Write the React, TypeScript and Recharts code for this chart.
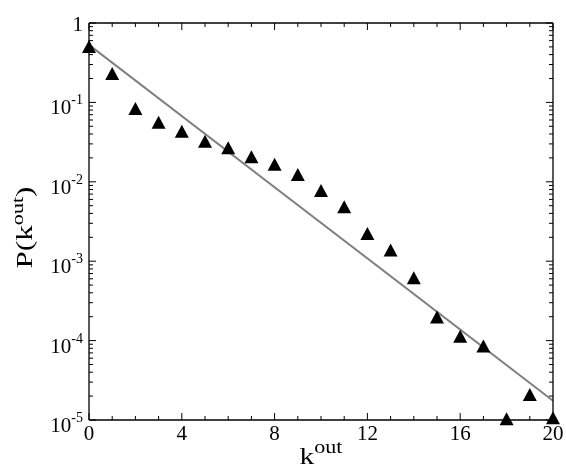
import React from "react";
import { ComposedChart, Scatter, Line, XAxis, YAxis } from "recharts";

// out-degree distribution (semi-log)
const kOut = [0, 1, 2, 3, 4, 5, 6, 7, 8, 9, 10, 11, 12, 13, 14, 15, 16, 17, 18, 19, 20];
const pK = [
  0.5, 0.228, 0.0826, 0.0555, 0.0428, 0.032, 0.0264, 0.0204, 0.0164, 0.0122, 0.00766,
  0.00478, 0.0022, 0.00136, 0.00061, 0.000195, 0.000112, 0.000084, 0.0000102, 0.0000207,
  0.0000105,
];

// exponential fit
const fitK = [0, 20];
const fitP = [0.53, 0.0000175];

// axis ticks
const xTicks = [0, 1, 2, 3, 4, 5, 6, 7, 8, 9, 10, 11, 12, 13, 14, 15, 16, 17, 18, 19, 20];
const xMajorTicks = [0, 4, 8, 12, 16, 20];
const yMajorExponents = [0, -1, -2, -3, -4, -5];
const yMinorFactors = [2, 3, 4, 5, 6, 7, 8, 9];

const rows = kOut.map((k, i) => ({ k, p: pK[i] }));
const fitRows = fitK.map((k, i) => ({ k, p: fitP[i] }));

const yTicks: number[] = [];
yMajorExponents.forEach((e) => {
  yTicks.push(Math.pow(10, e));
  if (e < 0) yMinorFactors.forEach((m) => yTicks.push(m * Math.pow(10, e)));
});
yTicks.sort((a, b) => a - b);

const FONT = "'Liberation Serif', 'Times New Roman', serif";
const MAJOR = 7;
const MINOR = 4;

const exponentOf = (v: number) => {
  const e = Math.log10(v);
  const r = Math.round(e);
  return Math.abs(e - r) < 1e-6 ? r : null;
};

function BottomTick({ x, y, payload }: any) {
  const major = xMajorTicks.includes(payload.value);
  return (
    <g>
      <line x1={x} y1={y} x2={x} y2={y - (major ? MAJOR : MINOR)} stroke="#000" strokeWidth={1} />
      {major && (
        <text x={x} y={y + 20} textAnchor="middle" fontSize={21} fontFamily={FONT} fill="#000">
          {payload.value}
        </text>
      )}
    </g>
  );
}

function TopTick({ x, y, payload }: any) {
  const major = xMajorTicks.includes(payload.value);
  return <line x1={x} y1={y} x2={x} y2={y + (major ? MAJOR : MINOR)} stroke="#000" strokeWidth={1} />;
}

function LeftTick({ x, y, payload }: any) {
  const e = exponentOf(payload.value);
  const major = e !== null && yMajorExponents.includes(e);
  return (
    <g>
      <line x1={x} y1={y} x2={x + (major ? MAJOR : MINOR)} y2={y} stroke="#000" strokeWidth={1} />
      {major && e === 0 && (
        <text x={x - 6} y={y + 8} textAnchor="end" fontSize={21} fontFamily={FONT} fill="#000">
          1
        </text>
      )}
      {major && e !== 0 && (
        <text x={x - 6} y={y + 12} textAnchor="end" fontSize={21} fontFamily={FONT} fill="#000">
          10
          <tspan dy={-10} fontSize={14}>
            {String(e)}
          </tspan>
        </text>
      )}
    </g>
  );
}

function RightTick({ x, y, payload }: any) {
  const e = exponentOf(payload.value);
  const major = e !== null;
  return <line x1={x} y1={y} x2={x - (major ? MAJOR : MINOR)} y2={y} stroke="#000" strokeWidth={1} />;
}

function Triangle({ cx, cy }: any) {
  if (cx == null || cy == null) return null;
  return <polygon points={`${cx},${cy - 7} ${cx - 7},${cy + 6} ${cx + 7},${cy + 6}`} fill="#000" />;
}

function XLabel({ viewBox }: any) {
  const { x, y, width } = viewBox;
  return (
    <text x={x + width / 2} y={y + 44} textAnchor="middle" fontFamily={FONT} fill="#000" textLength={43} lengthAdjust="spacingAndGlyphs">
      <tspan fontSize={24}>k</tspan>
      <tspan fontSize={18} dy={-11}>
        out
      </tspan>
    </text>
  );
}

function YLabel({ viewBox }: any) {
  const { x, y, height } = viewBox;
  const cx = x + 24;
  const cy = y + height / 2 + 6;
  return (
    <text
      transform={`translate(${cx},${cy}) rotate(-90)`}
      textAnchor="middle"
      fontFamily={FONT}
      fill="#000"
      textLength={82}
      lengthAdjust="spacingAndGlyphs"
    >
      <tspan fontSize={24}>P(k</tspan>
      <tspan fontSize={17} dy={-9}>
        out
      </tspan>
      <tspan fontSize={24} dy={9}>
        )
      </tspan>
    </text>
  );
}

export default function App() {
  return (
    <div style={{ position: "fixed", left: 0, top: 0, width: 566, height: 470 }}>
      <ComposedChart width={566} height={470} margin={{ top: 22, right: 12, bottom: 0, left: 8 }}>
        <XAxis
          xAxisId="bottom"
          dataKey="k"
          type="number"
          domain={[0, 20]}
          ticks={xTicks}
          interval={0}
          height={50}
          tickSize={0}
          tickMargin={0}
          tickLine={false}
          tick={<BottomTick />}
          axisLine={{ stroke: "#000", strokeWidth: 1.3 }}
          label={<XLabel />}
        />
        <XAxis
          xAxisId="top"
          orientation="top"
          dataKey="k"
          type="number"
          domain={[0, 20]}
          ticks={xTicks}
          interval={0}
          height={1}
          tickSize={0}
          tickMargin={0}
          tickLine={false}
          tick={<TopTick />}
          axisLine={{ stroke: "#000", strokeWidth: 1.3 }}
        />
        <YAxis
          yAxisId="left"
          dataKey="p"
          type="number"
          scale="log"
          domain={[0.00001, 1]}
          ticks={yTicks}
          interval={0}
          width={81}
          tickSize={0}
          tickMargin={0}
          tickLine={false}
          tick={<LeftTick />}
          axisLine={{ stroke: "#000", strokeWidth: 1.3 }}
          label={<YLabel />}
        />
        <YAxis
          yAxisId="right"
          orientation="right"
          dataKey="p"
          type="number"
          scale="log"
          domain={[0.00001, 1]}
          ticks={yTicks}
          interval={0}
          width={1}
          tickSize={0}
          tickMargin={0}
          tickLine={false}
          tick={<RightTick />}
          axisLine={{ stroke: "#000", strokeWidth: 1.3 }}
        />
        <Line
          xAxisId="top"
          yAxisId="right"
          data={fitRows}
          dataKey="p"
          stroke="#808080"
          strokeWidth={2}
          dot={false}
          activeDot={false}
          isAnimationActive={false}
        />
        <Scatter
          xAxisId="bottom"
          yAxisId="left"
          data={rows}
          dataKey="p"
          fill="#000"
          shape={<Triangle />}
          isAnimationActive={false}
        />
      </ComposedChart>
    </div>
  );
}
